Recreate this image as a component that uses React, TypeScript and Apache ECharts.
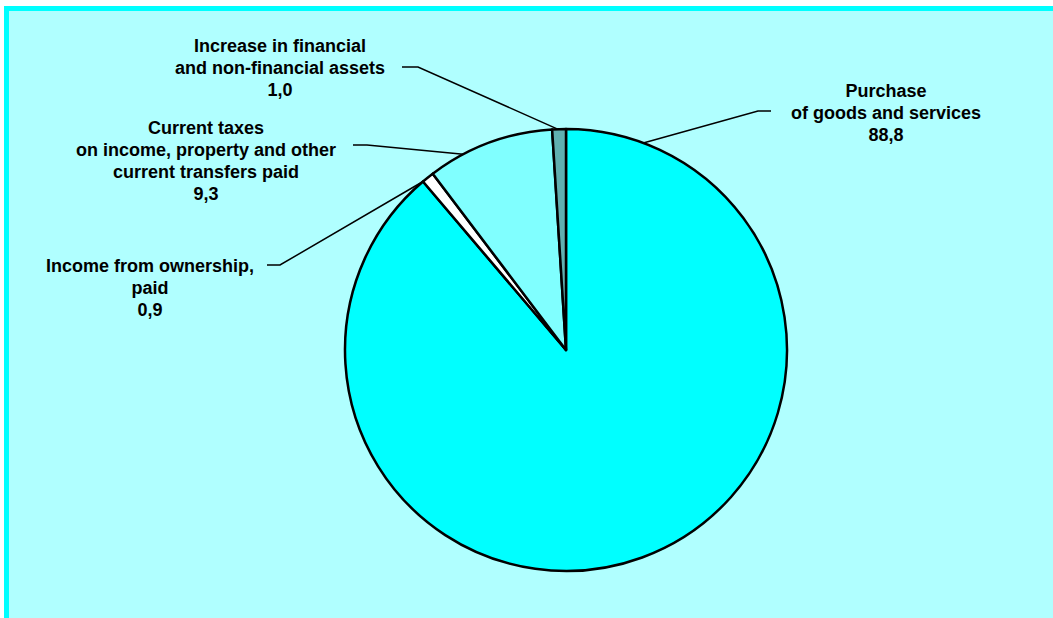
import React, { useEffect, useRef } from "react";
import * as echarts from "echarts";

const categories: string[] = [
  "Purchase\nof goods and services",
  "Income from ownership,\npaid",
  "Current taxes\non income, property and other\ncurrent transfers paid",
  "Increase in financial\nand non-financial assets",
];
const values: number[] = [88.8, 0.9, 9.3, 1.0];
const sliceColors: string[] = ["#00FFFF", "#FFFFFF", "#80FFFF", "#60B0B0"];

// label layout (text block centre, where along the slice the leader starts, bend point, line end)
const labelCenters: [number, number][] = [
  [886, 113],
  [150, 288],
  [206, 161],
  [280, 68],
];
const anchorWithinSlice: number[] = [0.064, 0.0, 0.28, 0.4];
const lineBends: [number, number][] = [
  [758, 111],
  [280, 265],
  [367, 145],
  [418, 67],
];
const lineEnds: [number, number][] = [
  [771, 111],
  [267, 265],
  [353, 145],
  [402, 67],
];

const CX = 566;
const CY = 350;
const R = 221;

export default function App() {
  const ref = useRef<HTMLDivElement>(null);
  useEffect(() => {
    if (!ref.current) return;
    const chart = echarts.init(ref.current, undefined, { renderer: "svg" });
    const total = values.reduce((a, b) => a + b, 0);
    const anchors: [number, number][] = [];
    let cum = 0;
    values.forEach((v, i) => {
      const frac = (cum + v * anchorWithinSlice[i]) / total;
      const th = frac * Math.PI * 2;
      anchors.push([CX + R * Math.sin(th), CY - R * Math.cos(th)]);
      cum += v;
    });
    chart.setOption({
      animation: false,
      backgroundColor: "#FFFFFF",
      graphic: [
        {
          type: "rect",
          z: -10,
          silent: true,
          shape: { x: 6.5, y: 8.5, width: 1200, height: 800 },
          style: { fill: "#B0FFFF", stroke: "#00FFFF", lineWidth: 5 },
        },
      ],
      series: [
        {
          type: "pie",
          center: [CX, CY],
          radius: R,
          startAngle: 90,
          clockwise: true,
          avoidLabelOverlap: false,
          z: 5,
          itemStyle: { borderColor: "#000000", borderWidth: 2.5 },
          label: {
            show: true,
            position: "outside",
            color: "#000000",
            fontFamily: "'Liberation Sans', Arial, sans-serif",
            fontSize: 18,
            fontWeight: "bold",
            lineHeight: 22,
            align: "center",
            formatter: (p: any) =>
              p.name + "\n" + Number(p.value).toFixed(1).replace(".", ","),
          },
          labelLine: {
            show: true,
            smooth: false,
            lineStyle: { color: "#000000", width: 1.5 },
          },
          labelLayout: (params: any) => {
            const i = params.dataIndex;
            return {
              x: labelCenters[i][0],
              y: labelCenters[i][1],
              align: "center",
              verticalAlign: "middle",
              labelLinePoints: [anchors[i], lineBends[i], lineEnds[i]],
            };
          },
          data: categories.map((name, i) => ({
            name,
            value: values[i],
            itemStyle: { color: sliceColors[i] },
          })),
        },
      ],
    });
    return () => chart.dispose();
  }, []);
  return (
    <div
      ref={ref}
      style={{ position: "fixed", left: 0, top: 0, width: 1053, height: 618 }}
    />
  );
}
